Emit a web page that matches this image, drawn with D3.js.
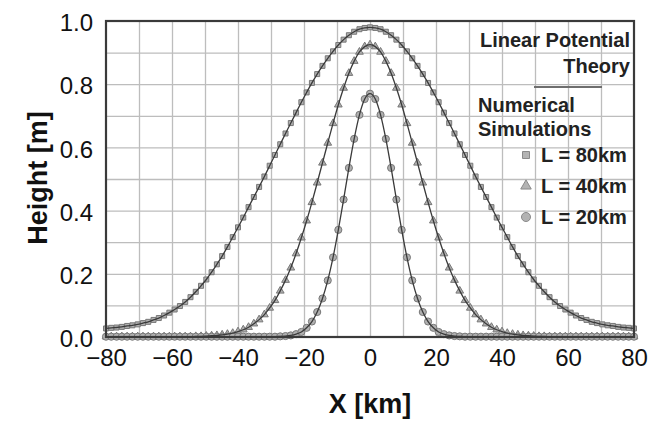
<!DOCTYPE html>
<html>
<head>
<meta charset="utf-8">
<script src="https://cdn.jsdelivr.net/npm/d3@7"></script>
<style>
  body { margin: 0; background: #fff; }
  svg { font-family: 'Liberation Sans', Arial, sans-serif; }
</style>
</head>
<body>
<svg id="svg" width="651" height="421"></svg>
<script>
// x positions of the computed points [km]
const xKm = [-80,-78.4,-76.8,-75.2,-73.6,-72,-70.4,-68.8,-67.2,-65.6,
             -64,-62.4,-60.8,-59.2,-57.6,-56,-54.4,-52.8,-51.2,-49.6,
             -48,-46.4,-44.8,-43.2,-41.6,-40,-38.4,-36.8,-35.2,-33.6,
             -32,-30.4,-28.8,-27.2,-25.6,-24,-22.4,-20.8,-19.2,-17.6,
             -16,-14.4,-12.8,-11.2,-9.6,-8,-6.4,-4.8,-3.2,-1.6,
             0,
             1.6,3.2,4.8,6.4,8,9.6,11.2,12.8,14.4,16,
             17.6,19.2,20.8,22.4,24,25.6,27.2,28.8,30.4,32,
             33.6,35.2,36.8,38.4,40,41.6,43.2,44.8,46.4,48,
             49.6,51.2,52.8,54.4,56,57.6,59.2,60.8,62.4,64,
             65.6,67.2,68.8,70.4,72,73.6,75.2,76.8,78.4,80];

// surface height [m] for each source length
const height80 = [0.027,0.029,0.030,0.032,0.035,0.037,0.040,0.044,0.048,0.054,
                  0.060,0.068,0.077,0.087,0.098,0.111,0.126,0.143,0.162,0.182,
                  0.205,0.230,0.256,0.285,0.316,0.347,0.378,0.411,0.443,0.475,
                  0.508,0.542,0.576,0.610,0.644,0.677,0.710,0.743,0.774,0.804,
                  0.832,0.858,0.882,0.904,0.924,0.941,0.955,0.966,0.974,0.978,
                  0.980,
                  0.978,0.974,0.966,0.955,0.941,0.924,0.904,0.882,0.858,0.832,
                  0.804,0.774,0.743,0.710,0.677,0.644,0.610,0.576,0.542,0.508,
                  0.475,0.443,0.411,0.378,0.347,0.316,0.285,0.256,0.230,0.205,
                  0.182,0.162,0.143,0.126,0.111,0.098,0.087,0.077,0.068,0.060,
                  0.054,0.048,0.044,0.040,0.037,0.035,0.032,0.030,0.029,0.027];

const height40 = [0.001,0.001,0.001,0.001,0.001,0.001,0.001,0.001,0.001,0.001,
                  0.001,0.001,0.001,0.001,0.001,0.001,0.001,0.002,0.002,0.003,
                  0.004,0.005,0.007,0.009,0.012,0.017,0.023,0.031,0.042,0.055,
                  0.071,0.092,0.116,0.146,0.180,0.219,0.264,0.314,0.368,0.426,
                  0.488,0.551,0.614,0.676,0.735,0.788,0.835,0.873,0.902,0.919,
                  0.925,
                  0.919,0.902,0.873,0.835,0.788,0.735,0.676,0.614,0.551,0.488,
                  0.426,0.368,0.314,0.264,0.219,0.180,0.146,0.116,0.092,0.071,
                  0.055,0.042,0.031,0.023,0.017,0.012,0.009,0.007,0.005,0.004,
                  0.003,0.002,0.002,0.001,0.001,0.001,0.001,0.001,0.001,0.001,
                  0.001,0.001,0.001,0.001,0.001,0.001,0.001,0.001,0.001,0.001];

const height20 = [0.001,0.001,0.001,0.001,0.001,0.001,0.001,0.001,0.001,0.001,
                  0.001,0.001,0.001,0.001,0.001,0.001,0.001,0.001,0.001,0.001,
                  0.001,0.001,0.001,0.001,0.001,0.001,0.001,0.001,0.001,0.001,
                  0.001,0.001,0.001,0.002,0.003,0.005,0.009,0.016,0.029,0.049,
                  0.079,0.122,0.179,0.252,0.339,0.435,0.535,0.627,0.703,0.753,
                  0.770,
                  0.753,0.703,0.627,0.535,0.435,0.339,0.252,0.179,0.122,0.079,
                  0.049,0.029,0.016,0.009,0.005,0.003,0.002,0.001,0.001,0.001,
                  0.001,0.001,0.001,0.001,0.001,0.001,0.001,0.001,0.001,0.001,
                  0.001,0.001,0.001,0.001,0.001,0.001,0.001,0.001,0.001,0.001,
                  0.001,0.001,0.001,0.001,0.001,0.001,0.001,0.001,0.001,0.001];

const xTicks = [-80,-60,-40,-20,0,20,40,60,80];
const yTicks = [0,0.2,0.4,0.6,0.8,1.0];
const legendLabels = ['L = 80km','L = 40km','L = 20km'];

const svg = d3.select('#svg');
const padding = {top: 21, right: 17, bottom: 84, left: 106};
const chartArea = {
    width: 651 - padding.left - padding.right,
    height: 421 - padding.top - padding.bottom
};

const xScale = d3.scaleLinear().domain([-80, 80]).range([0, chartArea.width]);
const yScale = d3.scaleLinear().domain([0, 1]).range([chartArea.height, 0]);

const plot = svg.append('g')
    .attr('transform', 'translate(' + padding.left + ',' + padding.top + ')');

// grid
plot.append('g')
    .attr('transform', 'translate(0,' + chartArea.height + ')')
    .call(d3.axisBottom(xScale).tickValues(d3.range(-70, 71, 10)).tickSize(-chartArea.height).tickFormat(''))
    .call(g => g.select('.domain').remove())
    .call(g => g.selectAll('line').attr('stroke', '#bdbdbd').attr('stroke-width', 1.3));
plot.append('g')
    .call(d3.axisLeft(yScale).tickValues(d3.range(0.1, 0.95, 0.1)).tickSize(-chartArea.width).tickFormat(''))
    .call(g => g.select('.domain').remove())
    .call(g => g.selectAll('line').attr('stroke', '#bdbdbd').attr('stroke-width', 1.3));

// axes labels
const xAxis = plot.append('g')
    .attr('transform', 'translate(0,' + chartArea.height + ')')
    .call(d3.axisBottom(xScale).tickValues(xTicks).tickSize(0).tickFormat(d3.format('d')));
xAxis.select('.domain').remove();
xAxis.selectAll('text')
    .attr('y', 29).attr('dy', 0)
    .attr('font-size', 24).attr('font-family', "'Liberation Sans', Arial, sans-serif").attr('fill', '#111');

const yAxis = plot.append('g')
    .call(d3.axisLeft(yScale).tickValues(yTicks).tickSize(0).tickPadding(13).tickFormat(d3.format('.1f')));
yAxis.select('.domain').remove();
yAxis.selectAll('text')
    .attr('dy', '0.4em')
    .attr('font-size', 24).attr('font-family', "'Liberation Sans', Arial, sans-serif").attr('fill', '#111');

// data
const series = [
    {values: height80, symbol: d3.symbolSquare, size: 25, legendSize: 49},
    {values: height40, symbol: d3.symbolTriangle, size: 26, legendSize: 48},
    {values: height20, symbol: d3.symbolCircle, size: 40, legendSize: 64}
];

series.forEach(s => {
    const pts = xKm.map((x, i) => [x, s.values[i]]);
    plot.append('g').selectAll('path').data(pts).enter()
        .append('path')
        .attr('d', d3.symbol().type(s.symbol).size(s.size))
        .attr('transform', d => 'translate(' + xScale(d[0]) + ',' + yScale(d[1]) + ')')
        .attr('fill', '#b0b0b0')
        .attr('stroke', '#777')
        .attr('stroke-width', 1);
});

const line = d3.line()
    .x(d => xScale(d[0]))
    .y(d => yScale(d[1]))
    .curve(d3.curveMonotoneX);

series.forEach(s => {
    plot.append('path')
        .datum(xKm.map((x, i) => [x, s.values[i]]))
        .attr('d', line)
        .attr('fill', 'none')
        .attr('stroke', '#3a3a3a')
        .attr('stroke-width', 1.3);
});

// frame
plot.append('rect')
    .attr('width', chartArea.width)
    .attr('height', chartArea.height)
    .attr('fill', 'none')
    .attr('stroke', '#3a3a3a')
    .attr('stroke-width', 2.2);

// axis titles
svg.append('text')
    .attr('x', padding.left + chartArea.width / 2)
    .attr('y', 413)
    .attr('text-anchor', 'middle')
    .attr('font-size', 27).attr('font-weight', 'bold').attr('fill', '#111')
    .text('X [km]');
svg.append('text')
    .attr('transform', 'translate(47,' + (padding.top + 157) + ') rotate(-90)')
    .attr('text-anchor', 'middle')
    .attr('font-size', 27).attr('font-weight', 'bold').attr('fill', '#111')
    .text('Height [m]');

// legend
const legend = svg.append('g').attr('font-weight', 'bold').attr('font-size', 20).attr('fill', '#222');
legend.append('text').attr('x', 630).attr('y', 47).attr('text-anchor', 'end').text('Linear Potential');
legend.append('text').attr('x', 630).attr('y', 73).attr('text-anchor', 'end').text('Theory');
legend.append('line')
    .attr('x1', 534).attr('x2', 602).attr('y1', 87).attr('y2', 87)
    .attr('stroke', '#6e6e6e').attr('stroke-width', 2);
legend.append('text').attr('x', 478).attr('y', 112).text('Numerical');
legend.append('text').attr('x', 478).attr('y', 136).text('Simulations');

const legendY = [155, 186, 217];
series.forEach((s, i) => {
    legend.append('path')
        .attr('d', d3.symbol().type(s.symbol).size(s.legendSize))
        .attr('transform', 'translate(526,' + legendY[i] + ')')
        .attr('fill', '#b3b3b3')
        .attr('stroke', '#8a8a8a')
        .attr('stroke-width', 1);
    legend.append('text')
        .attr('x', 541)
        .attr('y', legendY[i] + 7)
        .text(legendLabels[i]);
});
</script>
</body>
</html>
